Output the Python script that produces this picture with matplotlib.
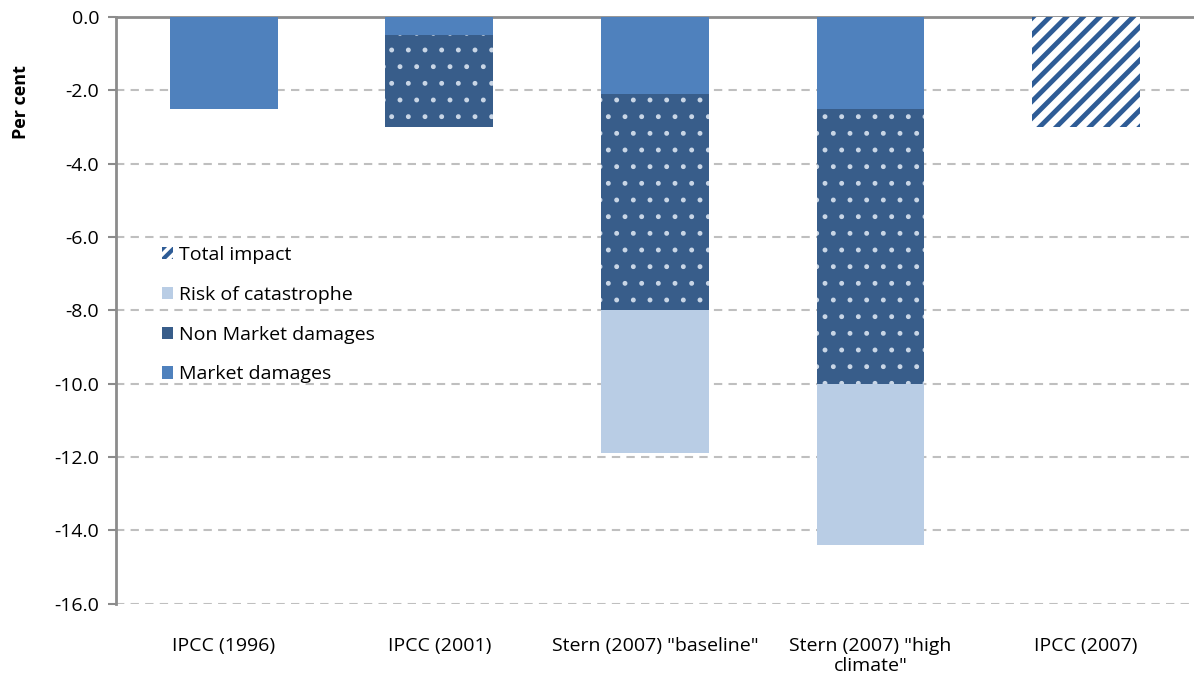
import numpy as np
import matplotlib.pyplot as plt
import matplotlib.patches as mpatches

plt.rcParams['font.family'] = ['Open Sans', 'DejaVu Sans']

categories = ['IPCC (1996)', 'IPCC (2001)', 'Stern (2007) "baseline"',
              'Stern (2007) "high\nclimate"', 'IPCC (2007)']
market = [-2.5, -0.5, -2.1, -2.5, 0.0]
non_market = [0.0, -2.5, -5.9, -7.5, 0.0]
risk = [0.0, 0.0, -3.9, -4.4, 0.0]
total = [0.0, 0.0, 0.0, 0.0, -3.0]

c_market = '#4F81BD'
c_nonmarket = '#385D8A'
c_risk = '#B9CDE5'
c_total = '#2E5C96'

x = np.arange(len(categories))
w = 0.5
fs = 14

fig, ax = plt.subplots(figsize=(11.94, 6.8), dpi=100)
fig.subplots_adjust(left=0.097, right=1.0, top=0.975, bottom=0.112)

market = np.array(market)
non_market = np.array(non_market)
risk = np.array(risk)

ax.bar(x, market, w, color=c_market, zorder=3)
ax.bar(x, non_market, w, bottom=market, color=c_nonmarket, zorder=3)
with plt.rc_context({'hatch.linewidth': 1.1}):
    ax.bar(x, non_market, w, bottom=market, facecolor='none', edgecolor='#C9D6E6',
           linewidth=0, hatch='.', zorder=4)
ax.bar(x, risk, w, bottom=market + non_market, color=c_risk, zorder=3)
with plt.rc_context({'hatch.linewidth': 3.5}):
    ax.bar(x, total, w, facecolor='white', edgecolor=c_total, linewidth=0,
           hatch='//', zorder=3)

ax.set_xlim(-0.5, len(categories) - 0.5)
ax.set_ylim(-16, 0)
yt = np.arange(-16, 0.1, 2)
ax.set_yticks(yt)
ax.set_yticklabels([f'{v:.1f}' for v in yt], fontsize=fs)
ax.yaxis.grid(True, color='#BFBFBF', linestyle=(0, (4, 3)), linewidth=1.5, zorder=0)
ax.set_axisbelow(True)
ax.set_xticks(x)
ax.set_xticklabels(categories, fontsize=fs, linespacing=1.1, va='top')
ax.tick_params(axis='x', length=0, pad=24)
ax.tick_params(axis='y', direction='out', length=6, width=1.5, color='#8C8C8C', pad=6)
ax.set_ylabel('Per cent', fontsize=fs - 1, fontweight='bold')
ax.yaxis.set_label_coords(-0.08, 0.855)

for s in ['right', 'bottom']:
    ax.spines[s].set_visible(False)
for s in ['left', 'top']:
    ax.spines[s].set_color('#8C8C8C')
    ax.spines[s].set_linewidth(2)

with plt.rc_context({'hatch.linewidth': 3.0}):
    handles = [
        mpatches.Patch(facecolor='white', edgecolor=c_total, hatch='///', linewidth=0, label='Total impact'),
        mpatches.Patch(facecolor=c_risk, label='Risk of catastrophe'),
        mpatches.Patch(facecolor=c_nonmarket, label='Non Market damages'),
        mpatches.Patch(facecolor=c_market, label='Market damages'),
    ]
    ax.legend(handles=handles, loc='upper left', bbox_to_anchor=(0.03, 0.633), frameon=False,
              fontsize=fs, handlelength=0.6, handleheight=0.6, handletextpad=0.3,
              labelspacing=1.12, borderpad=0.2)

fig.savefig('out.png', dpi=100)
